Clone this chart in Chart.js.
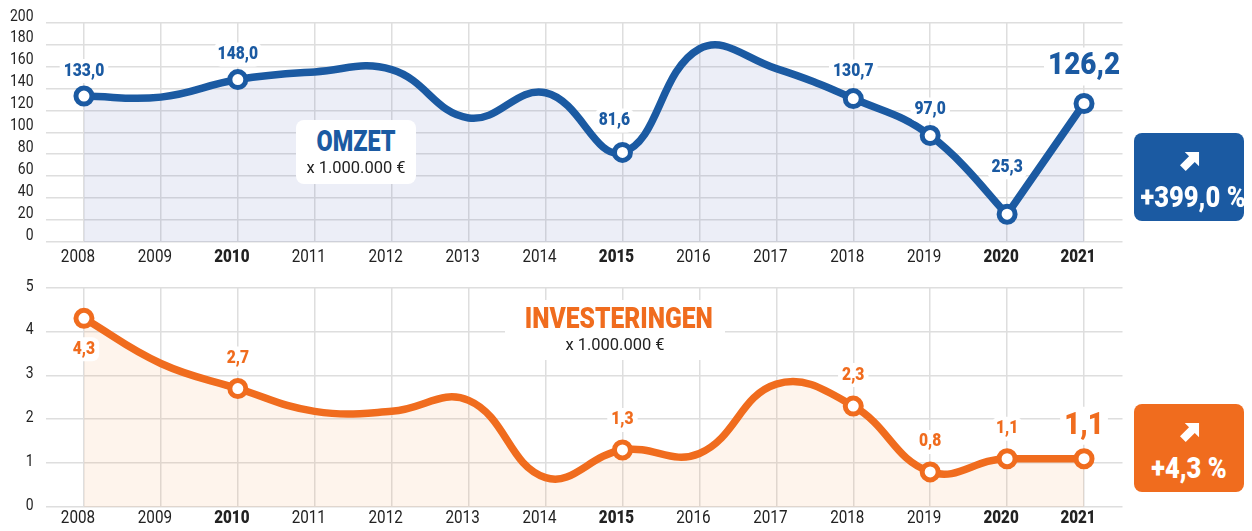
<!DOCTYPE html>
<html><head><meta charset="utf-8">
<script src="https://cdn.jsdelivr.net/npm/chart.js@4"></script>
<style>
html,body{margin:0;padding:0;background:#fff;width:1252px;height:531px;overflow:hidden}
body{position:relative;font-family:"Roboto",sans-serif}
canvas{position:absolute;left:0}
.title{position:absolute;background:#fff;border-radius:8px;text-align:center;box-sizing:border-box}
.title b{display:block;font-size:30px;line-height:32px;font-weight:900;white-space:nowrap;transform:scaleX(.78)}
.title span{display:block;font-size:17px;line-height:20px;color:#222;white-space:nowrap;transform:scaleX(.97)}
.badge{position:absolute;left:1134px;width:110px;height:88px;border-radius:8px;color:#fff;text-align:center}
.badge b{position:absolute;left:0;right:0;top:46px;font-size:29px;line-height:36px;font-weight:900;white-space:nowrap;transform:scaleX(.88)}
.badge svg{position:absolute;left:46px;top:18px}
</style></head><body>
<div style="position:absolute;left:0;top:0;width:1252px;height:266px"><canvas id="c1" width="1252" height="266" style="width:1252px;height:266px"></canvas></div>
<div style="position:absolute;left:0;top:266px;width:1252px;height:265px"><canvas id="c2" width="1252" height="265" style="width:1252px;height:265px"></canvas></div>
<div class="title" style="left:296px;top:120px;width:120px;height:64px;padding-top:5px"><b style="color:#1b5aa2">OMZET</b><span>x 1.000.000 €</span></div>
<div class="title" style="left:505px;top:300px;width:220px;height:60px;padding-top:2px"><b style="color:#f06c1e;transform:scaleX(.82)">INVESTERINGEN</b><span>x 1.000.000 €</span></div>
<div class="badge" style="top:133px;background:#1b5aa2"><svg width="20" height="20" viewBox="0 0 21 21"><path d="M5 1H20V16L15.500 11.500 6 21 0 15 9.500 5.500Z" fill="#fff"/></svg><b>+399,0 %</b></div>
<div class="badge" style="top:404px;background:#f06c1e"><svg width="20" height="20" viewBox="0 0 21 21"><path d="M5 1H20V16L15.500 11.500 6 21 0 15 9.500 5.500Z" fill="#fff"/></svg><b>+4,3 %</b></div>
<script>
const years = ["2008","2009","2010","2011","2012","2013","2014","2015","2016","2017","2018","2019","2020","2021"];
const boldYears = ["2010","2015","2020","2021"];
const omzet = [133.0,132,148.0,155,157,113,136,81.6,176,158,130.7,97.0,25.3,126.2];
const omzetLabels = ["133,0",null,"148,0",null,null,null,null,"81,6",null,null,"130,7","97,0","25,3","126,2"];
const investeringen = [4.3,3.27,2.7,2.18,2.18,2.43,0.67,1.3,1.22,2.8,2.3,0.8,1.1,1.1];
const investeringenLabels = ["4,3",null,"2,7",null,null,null,null,"1,3",null,null,"2,3","0,8","1,1","1,1"];
const omzetTicks = [0,20,40,60,80,100,120,140,160,180,200];
const investTicks = [0,1,2,3,4,5];

const FONT = '"Roboto",sans-serif';
const CONDENSE = 0.87;
Chart.defaults.font.family = FONT;

const condensedText = {
  id:'condensedText',
  beforeInit(chart){
    const ctx = chart.ctx, orig = ctx.fillText;
    ctx.fillText = function(t,x,y,m){
      ctx.save();ctx.translate(x,y);ctx.scale(CONDENSE,1);
      orig.call(ctx,t,0,0,m);ctx.restore();
    };
  }
};
const cornerAt2020 = {
  id:'cornerAt2020',
  afterDatasetsUpdate(chart,args,opts){
    const meta = chart.getDatasetMeta(0);
    meta.dataset.updateControlPoints(chart.chartArea,'x');
    const p = meta.data, a = p[p.length-2], b = p[p.length-1], prev = p[p.length-3];
    a.cp2x=a.x;a.cp2y=a.y;b.cp1x=b.x;b.cp1y=b.y;
    if(opts.sharp){a.cp1x=a.x-13;a.cp1y=a.y-(a.y-prev.y)*0.15;}
    else{a.cp1y=a.y;}
  }
};
const labelPlugin = {
  id:'valueLabels',
  afterDatasetsDraw(chart,args,opts){
    const {ctx,scales:{x,y}} = chart;
    const ds = chart.data.datasets[0];
    opts.texts.forEach((t,i)=>{
      if(t===null) return;
      const last = i===opts.texts.length-1;
      const size = last ? opts.bigSize : opts.size;
      const px = x.getPixelForValue(i)+(opts.dx[i]||0);
      const py = y.getPixelForValue(ds.data[i])+opts.dy[i];
      ctx.save();
      ctx.font = `900 ${size}px ${FONT}`;
      ctx.textAlign='center';ctx.textBaseline='middle';
      const w = ctx.measureText(t).width*CONDENSE+8, h=size+6;
      ctx.fillStyle='#fff';
      ctx.beginPath();ctx.roundRect(px-w/2,py-h/2,w,h,7);ctx.fill();
      ctx.fillStyle=opts.color;
      ctx.fillText(t,px,py);
      ctx.restore();
    });
  }
};

function build(id,data,texts,ticks,max,color,fill,topPad,axisH,offs,yOff,xPad,sharp){
  return new Chart(document.getElementById(id),{
    type:'line',
    plugins:[condensedText,cornerAt2020,labelPlugin],
    data:{labels:years,datasets:[{
      data,borderColor:color,borderWidth:7.5,tension:0.42,
      fill:'origin',backgroundColor:fill,
      pointRadius:c=>texts[c.dataIndex]===null?0:8,
      pointBorderWidth:5,pointBorderColor:color,pointBackgroundColor:'#fff',clip:false
    }]},
    options:{
      responsive:false,animation:false,
      layout:{padding:{top:topPad,right:129.5,left:0,bottom:0}},
      plugins:{legend:{display:false},tooltip:{enabled:false},
        cornerAt2020:{sharp},
        valueLabels:{texts,color,size:18,bigSize:32,dy:offs.dy,dx:offs.dx}},
      scales:{
        x:{offset:true,
          afterFit(s){s.height=axisH},
          border:{display:false},
          grid:{color:'#dedede',lineWidth:1.5,drawTicks:false},
          ticks:{maxRotation:0,autoSkip:false,padding:xPad,color:'#222',labelOffset:-6,
            font:c=>({size:17.5,weight:boldYears.includes(years[c.index])?'900':'normal'})}
        },
        y:{min:0,max,
          afterFit(s){s.width=45.5},
          afterBuildTicks(s){s.ticks=ticks.map(v=>({value:v}))},
          border:{display:false},
          grid:{color:'#dedede',lineWidth:1.5,drawTicks:false},
          ticks:{padding:12,color:'#222',autoSkip:false,labelOffset:yOff,font:{size:16}}
        }
      }
    }
  });
}
const omzetPlace = {dy:[-25,0,-25,0,0,0,0,-32,0,0,-27,-26,-47,-37],dx:[0,0,0,0,0,0,0,-8,0,0,0,0,0,0]};
const investPlace = {dy:[31,0,-30,0,0,0,0,-30,0,0,-31,-30,-30,-33],dx:[0,0,0,0,0,0,0,0,0,0,0,0,0,0]};
build('c1',omzet,omzetLabels,omzetTicks,200,'#1b5aa2','rgba(40,70,170,0.09)',22.5,24,omzetPlace,-6,5,true);
build('c2',investeringen,investeringenLabels,investTicks,5,'#f06c1e','rgba(240,130,40,0.09)',21,24,investPlace,-1,1,false);
</script>
</body></html>
